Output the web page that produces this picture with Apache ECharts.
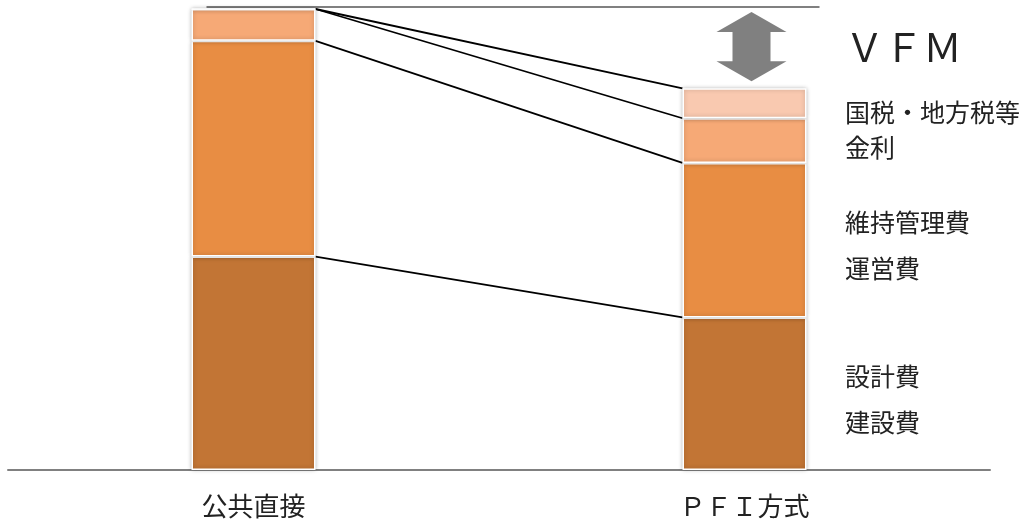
<!DOCTYPE html>
<html style="height: 100%">
<head>
<meta charset="utf-8">
</head>
<body style="width: 100%; height: 100%; margin:0; background:#fff;">
<div id="container" style="width:1034px; height:519px"></div>
<script type="text/javascript" src="https://cdn.jsdelivr.net/npm/echarts@6/dist/echarts.min.js"></script>
<script type="text/javascript">
	var categories = ['公共直接', 'ＰＦＩ方式'];
	// segment values (公共直接 total = 100)
	var kensetsu = [46.3, 33.1];   // 設計費・建設費
	var iji = [46.8, 33.5];        // 維持管理費・運営費
	var kinri = [6.9, 9.7];        // 金利
	var zeikin = [0, 6.5];         // 国税・地方税等
	var sideLabels = [
		['ＶＦＭ', 51, 39],
		['国税・地方税等', 115, 25],
		['金利', 150, 25],
		['維持管理費', 225, 25],
		['運営費', 271, 25],
		['設計費', 379, 25],
		['建設費', 425, 25]
	];

	var BAR_W = 124;
	var font = '"Noto Sans CJK JP", sans-serif';

	function cum(i, k) {
		var s = [kensetsu, iji, kinri, zeikin];
		var t = 0;
		for (var j = 0; j < k; j++) t += s[j][i];
		return t;
	}
	// connector levels: left cumulative -> right cumulative
	var connectors = [];
	for (var k = 1; k <= 4; k++) {
		connectors.push([0, cum(0, k), cum(1, k)]);
	}
	var leftTotal = cum(0, 4), rightTotal = cum(1, 4);

	var dom = document.getElementById('container');
	var myChart = echarts.init(dom);

	function barStyle(color) {
		return {
			color: color,
			borderColor: '#fff',
			borderWidth: 1.5,
			shadowBlur: 4,
			shadowColor: 'rgba(0,0,0,0.25)'
		};
	}

	var option = {
		animation: false,
		grid: { left: 8, right: 44, top: 9, bottom: 48 },
		xAxis: {
			type: 'category',
			data: categories,
			axisLine: { lineStyle: { color: '#808080', width: 2 } },
			axisTick: { show: false },
			axisLabel: { margin: 23, fontSize: 26, color: '#222', fontFamily: font }
		},
		yAxis: {
			type: 'value', min: 0, max: 100, show: false
		},
		graphic: sideLabels.map(function (l) {
			return {
				type: 'text', left: 845, top: l[1] - l[2] * 0.6,
				style: { text: l[0], fontSize: l[2], fill: '#222', fontFamily: font }
			};
		}),
		series: [
			{ type: 'bar', stack: 'a', barWidth: BAR_W, data: kensetsu, itemStyle: barStyle('#C27535') },
			{ type: 'bar', stack: 'a', data: iji, itemStyle: barStyle('#E88D43') },
			{ type: 'bar', stack: 'a', data: kinri, itemStyle: barStyle('#F6A976') },
			{ type: 'bar', stack: 'a', data: zeikin, itemStyle: barStyle('#F9C9B0') },
			{
				type: 'custom',
				z: 1,
				data: connectors,
				encode: { x: 0, y: 1 },
				renderItem: function (params, api) {
					var a = api.coord([0, api.value(1)]);
					var b = api.coord([1, api.value(2)]);
					return {
						type: 'line',
						shape: { x1: a[0] + BAR_W / 2, y1: a[1], x2: b[0] - BAR_W / 2, y2: b[1] },
						style: { stroke: '#000', lineWidth: 1.8 }
					};
				}
			},
			{
				type: 'custom',
				z: 0,
				data: [[0, leftTotal, rightTotal]],
				encode: { x: 0, y: 1 },
				renderItem: function (params, api) {
					var a = api.coord([0, api.value(1)]);
					var b = api.coord([1, api.value(2)]);
					var top = a[1] + 3, bot = b[1] - 7, cx = b[0] + 7;
					var hw = 35, sw = 19, hh = 20;
					return {
						type: 'group',
						children: [
							{
								type: 'line',
								shape: { x1: a[0] - 47, y1: a[1] - 2, x2: b[0] + 75, y2: a[1] - 2 },
								style: { stroke: '#808080', lineWidth: 2 }
							},
							{
								type: 'polygon',
								shape: { points: [
									[cx, top], [cx + hw, top + hh], [cx + sw, top + hh],
									[cx + sw, bot - hh], [cx + hw, bot - hh], [cx, bot],
									[cx - hw, bot - hh], [cx - sw, bot - hh], [cx - sw, top + hh],
									[cx - hw, top + hh]
								] },
								style: { fill: '#808080' }
							}
						]
					};
				}
			}
		]
	};
	myChart.setOption(option);
</script>
</body>
</html>
